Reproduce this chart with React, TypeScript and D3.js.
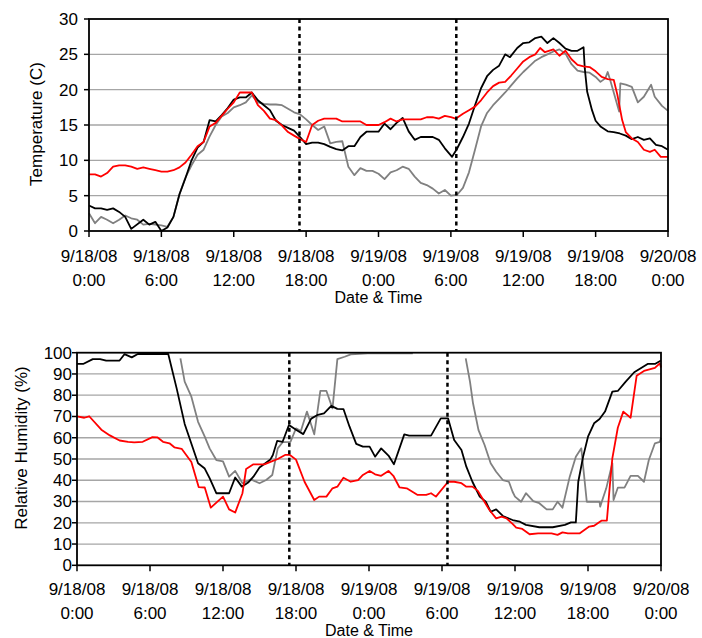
import React from 'react';
import * as d3 from 'd3';

// ---------- data (hours since 9/18/08 0:00, value) ----------
const tickHours = [0, 6, 12, 18, 24, 30, 36, 42, 48];
const dividerHours = [17.45, 30.45];
const tempTicks = [0, 5, 10, 15, 20, 25, 30];
const rhTicks = [0, 10, 20, 30, 40, 50, 60, 70, 80, 90, 100];

const tempBlack: [number, number][] = [
  [0, 3.6], [0.5, 3.2], [1, 3.2], [1.5, 3.0], [2, 3.2], [2.5, 2.7], [3, 2.0], [3.5, 0.3], [4.5, 1.6], [5, 0.9],
  [5.5, 1.3], [6, 0.0], [6.5, 0.5], [7, 2.0], [7.5, 5.2], [8, 7.5], [8.5, 10.0], [9, 11.8], [9.5, 12.6], [10, 15.7],
  [10.5, 15.5], [11, 16.4], [11.5, 17.4], [12, 18.6], [12.5, 18.9], [13, 18.9], [13.5, 19.6], [14, 18.5], [14.5, 17.8],
  [15, 17.1], [15.5, 15.6], [16, 15.0], [16.5, 14.6], [17, 14.2], [17.5, 13.3], [18, 12.3], [18.5, 12.5], [19, 12.5],
  [19.5, 12.3], [20, 11.9], [20.5, 11.6], [21, 11.4], [21.5, 12.0], [22, 12.0], [22.5, 13.3], [23, 14.05], [23.5, 14.05],
  [24, 14.05], [24.5, 15.2], [25, 14.4], [25.5, 15.3], [26, 16.0], [26.5, 14.1], [27, 12.9], [27.5, 13.3], [28, 13.3],
  [28.5, 13.3], [29, 12.9], [29.5, 11.7], [30.1, 10.5], [30.5, 11.6], [31, 13.3], [31.5, 15.2], [32, 17.8], [32.5, 20.2],
  [33, 21.9], [33.5, 22.8], [34, 23.4], [34.5, 25.0], [34.9, 24.6], [35.5, 25.9], [36, 26.6], [36.5, 26.7], [37, 27.3],
  [37.5, 27.5], [38, 26.6], [38.5, 27.3], [39, 26.6], [39.5, 25.8], [40, 25.5], [40.5, 25.5], [41, 26.0], [41.1, 23.0],
  [41.3, 19.7], [41.7, 17.1], [42, 15.6], [42.4, 14.8], [43, 14.1], [43.5, 14.0], [44, 13.8], [44.5, 13.5], [45, 13.0],
  [45.5, 13.3], [46, 12.9], [46.5, 13.1], [47, 12.2], [47.5, 12.0], [48, 11.5],
];

const tempRed: [number, number][] = [
  [0, 8.0], [0.5, 8.0], [1, 7.7], [1.5, 8.2], [2, 9.1], [2.5, 9.3], [3, 9.3], [3.5, 9.1], [4, 8.8], [4.5, 9.0],
  [5, 8.8], [5.5, 8.6], [6, 8.4], [6.5, 8.4], [7, 8.6], [7.5, 9.0], [8, 9.7], [8.5, 10.8], [9, 12.0], [9.5, 12.6],
  [10, 14.8], [10.5, 15.3], [11, 16.3], [11.5, 17.3], [12, 18.2], [12.5, 19.6], [13, 19.6], [13.5, 19.6], [14, 17.8],
  [14.5, 17.0], [15, 15.9], [15.5, 15.7], [16, 14.9], [16.5, 14.0], [17, 13.5], [17.5, 13.0], [18, 12.6], [18.5, 15.0],
  [19, 15.6], [19.5, 15.9], [20, 15.9], [20.5, 15.9], [21, 15.5], [21.5, 15.5], [22, 15.5], [22.5, 15.5], [23, 15.0],
  [23.5, 15.0], [24, 15.0], [24.5, 15.4], [25, 15.9], [25.5, 15.5], [26, 15.8], [26.5, 15.8], [27, 15.8], [27.5, 15.8],
  [28, 16.1], [28.5, 16.1], [29, 15.9], [29.5, 16.3], [30, 16.1], [30.4, 15.9], [31, 16.6], [31.5, 17.1], [32, 17.6],
  [32.5, 18.5], [33, 19.6], [33.5, 20.5], [34, 21.0], [34.5, 21.1], [35, 22.0], [35.5, 23.0], [36, 24.0], [36.5, 24.6],
  [37, 25.0], [37.4, 25.9], [37.8, 25.3], [38.5, 25.7], [39, 24.8], [39.5, 25.5], [40, 24.3], [40.5, 23.5], [41, 23.3],
  [41.5, 23.2], [42, 22.6], [42.5, 21.8], [43, 21.5], [43.5, 21.4], [43.8, 19.3], [44.2, 15.7], [44.5, 14.0], [45, 13.1],
  [45.5, 12.6], [46, 11.5], [46.5, 11.2], [46.9, 11.5], [47.4, 10.5], [48, 10.5],
];

const tempGray: [number, number][] = [
  [0, 2.5], [0.5, 1.1], [1, 2.0], [1.5, 1.6], [2, 1.1], [2.5, 1.6], [3, 2.2], [3.5, 1.8], [4, 1.6], [4.5, 0.9],
  [5, 1.0], [5.5, 0.9], [6, 0.8], [6.5, 0.6], [7, 2.0], [7.5, 5.2], [8, 7.6], [8.5, 9.3], [9, 10.8], [9.5, 11.5],
  [10, 13.4], [10.5, 15.0], [11, 16.2], [11.5, 16.7], [12, 17.5], [12.5, 17.8], [13, 18.2], [13.5, 19.2], [14, 18.2],
  [14.5, 18.0], [15, 17.9], [15.5, 17.9], [16, 17.8], [16.5, 17.3], [17, 16.8], [17.5, 16.5], [18, 15.8], [18.5, 15.0],
  [19, 14.3], [19.5, 14.8], [20, 12.4], [20.5, 12.6], [21, 12.7], [21.5, 9.1], [22, 7.9], [22.5, 8.9], [23, 8.5],
  [23.5, 8.5], [24, 8.1], [24.5, 7.35], [25, 8.3], [25.5, 8.6], [26, 9.1], [26.5, 8.8], [27, 7.7], [27.5, 6.8],
  [28, 6.5], [28.5, 6.0], [29, 5.3], [29.5, 5.8], [30, 5.0], [30.5, 5.1], [31, 6.1], [31.5, 8.3], [32, 11.5],
  [32.5, 14.8], [33, 16.7], [33.5, 17.8], [34, 18.7], [34.5, 19.6], [35, 20.6], [35.5, 21.6], [36, 22.5], [36.5, 23.3],
  [37, 24.1], [37.5, 24.6], [38, 25.0], [38.5, 25.4], [39, 25.7], [39.5, 25.1], [40, 23.6], [40.5, 22.7], [41, 22.5],
  [41.5, 22.4], [42, 21.8], [42.4, 21.1], [42.8, 21.6], [43, 22.5], [43.2, 21.4], [43.95, 16.9], [44.05, 20.9],
  [44.5, 20.7], [45, 20.4], [45.5, 18.2], [46, 19.0], [46.6, 20.7], [46.9, 19.0], [47.5, 17.7], [48, 17.0],
];

const rhBlack: [number, number][] = [
  [0, 94.7], [0.5, 94.7], [1.3, 97.0], [1.9, 97.0], [2.4, 96.3], [3.5, 96.3], [3.9, 99.3], [4.5, 97.8], [5, 99.4],
  [7.5, 99.4], [8.2, 83], [8.85, 66.5], [9.95, 48], [10.5, 45.5], [10.9, 41], [11.45, 33.9], [12.5, 33.9], [13, 41.3],
  [13.55, 37.0], [14.1, 39.1], [14.5, 41.7], [15, 46], [15.9, 49.8], [16.1, 51.9], [16.45, 58.5], [16.9, 58.1],
  [17.42, 66], [18, 63.8], [18.6, 61.7], [19.25, 69], [19.8, 70.8], [20.3, 71.5], [20.9, 75], [21.4, 73.6], [21.9, 73.5],
  [22.4, 65.2], [22.95, 57.1], [23.5, 55.8], [24.05, 55.8], [24.5, 51.1], [25, 55.0], [25.6, 51.6], [26.05, 47.5],
  [26.9, 61.6], [27.3, 61.0], [29.1, 61.0], [29.9, 69.1], [30.5, 69.1], [31, 58.9], [31.6, 54.2], [32, 46.4],
  [32.5, 39.3], [33.1, 32.3], [33.6, 29.9], [34, 25.2], [34.45, 26.3], [35, 23.2], [35.8, 21.3], [36.4, 20.5],
  [36.9, 19.0], [38, 17.9], [39.1, 17.9], [40.1, 19.0], [40.6, 20.2], [41, 20.2], [41.2, 39.3], [41.6, 51.1],
  [42, 60.5], [42.5, 66.8], [42.95, 68.8], [43.4, 72.3], [44, 81.7], [44.45, 82.0], [45.1, 86.4], [45.8, 90.8],
  [46.9, 94.7], [47.5, 94.7], [48, 96.3],
];

const rhRed: [number, number][] = [
  [0, 70.1], [0.6, 69.4], [1, 70.1], [2, 63.8], [2.7, 61.1], [3.5, 58.7], [4.2, 58.1], [4.7, 57.8], [5.4, 58.1],
  [6.2, 60.3], [6.6, 60.2], [7.07, 58.1], [7.6, 57.4], [8, 55.5], [8.6, 54.8], [9.4, 48.6], [10, 36.8], [10.5, 36.6],
  [11, 27.1], [12, 32.3], [12.5, 26.3], [13, 24.8], [13.6, 33.9], [13.9, 45.3], [14.5, 47.5], [15.4, 47.5], [16.1, 49.1],
  [16.5, 50.0], [17.1, 51.9], [17.5, 51.9], [18, 49.7], [18.7, 39.3], [19.5, 30.7], [19.9, 32.3], [20.5, 32.3],
  [21, 36.2], [21.4, 37.0], [21.9, 41.2], [22.5, 39.3], [23.1, 40.1], [23.5, 42.5], [24.05, 44.4], [24.5, 42.8],
  [25, 42.1], [25.6, 44.4], [26, 42.1], [26.5, 36.7], [27.1, 36.2], [28, 33.1], [28.7, 33.1], [29.1, 33.9], [29.5, 32.3],
  [30.5, 39.3], [31, 39.3], [31.6, 38.6], [32, 37.0], [32.5, 37.0], [32.95, 35.0], [33.4, 30.7], [33.9, 26.0],
  [34.45, 22.1], [34.9, 22.9], [35.3, 22.1], [35.8, 19.5], [36.1, 17.7], [36.6, 17.1], [37.2, 14.6], [37.9, 15.0],
  [39, 15.0], [39.5, 14.3], [39.9, 15.5], [40.35, 15.0], [41.3, 15.0], [42.1, 18.2], [42.5, 18.6], [43.1, 21.0],
  [43.55, 21.0], [43.8, 37.8], [44, 50.3], [44.45, 64.7], [44.9, 72.3], [45.5, 69.4], [46, 89.2], [46.6, 91.4],
  [47.5, 92.9], [47.9, 95.0], [48, 93.0],
];

const rhGray: [number, number | null][] = [
  [8.5, 97.3], [8.85, 86.4], [9.4, 79.3], [9.95, 67.5], [10.5, 60.5], [10.9, 55.0], [11.45, 49.5], [12, 48.9],
  [12.5, 41.7], [13, 44.4], [13.6, 38.6], [14.3, 40.4], [15, 38.6], [15.55, 40.1], [16.05, 42.5], [16.5, 55.0],
  [16.9, 57.9], [17.55, 58.1], [18, 64.4], [18.4, 63.2], [18.9, 72.3], [19.5, 61.6], [20, 82.0], [20.5, 82.0],
  [21, 73.8], [21.4, 97.0], [22, 98.1], [22.5, 99.2], [23.9, 99.7], [27.6, 99.7], [27.7, null],
  [31.95, 97.3], [32.3, 86.4], [32.55, 76.2], [33, 63.6], [33.5, 56.6], [34, 48.0], [34.45, 44.0], [35, 40.1],
  [35.5, 39.3], [35.8, 34.6], [36, 32.3], [36.5, 29.9], [36.9, 33.9], [37.5, 30.2], [38, 29.2], [38.6, 26.3],
  [39.1, 26.3], [39.5, 29.9], [39.9, 27.1], [40.5, 41.7], [41, 51.1], [41.45, 55.0], [41.9, 29.9], [42.95, 29.9],
  [43, 27.6], [43.5, 36.2], [44, 48.0], [44.1, 30.7], [44.45, 36.5], [45, 36.5], [45.5, 42.1], [46.1, 42.1],
  [46.6, 39.3], [47, 49.5], [47.5, 57.4], [47.9, 58.1], [48, 60.0],
];

// ---------- helpers ----------
const base = new Date(2008, 8, 18, 0, 0, 0);
const toDate = (h: number) => new Date(base.getTime() + h * 3600 * 1000);
const fmtDate = d3.timeFormat('%-m/%-d/%y');
const fmtTime = d3.timeFormat('%-H:%M');
const FONT = '"Liberation Sans", Arial, sans-serif';

type Series = { data: [number, number | null][]; color: string };

type PanelProps = {
  left: number; right: number; top: number; bottom: number;
  yMax: number; yTicks: number[]; series: Series[];
  yLabel: string; yLabelX: number; yLabelY: number;
  yTickGap: number; dateY: number; timeY: number; titleY: number;
};

function Panel(p: PanelProps) {
  const x = d3.scaleTime().domain([toDate(0), toDate(48)]).range([p.left, p.right]);
  const y = d3.scaleLinear().domain([0, p.yMax]).range([p.bottom, p.top]);
  const line = d3
    .line<[number, number | null]>()
    .defined((d) => d[1] !== null)
    .x((d) => x(toDate(d[0])))
    .y((d) => y(d[1] as number));
  const ticks = tickHours.map(toDate);
  const cx = (p.left + p.right) / 2;
  return (
    <g>
      {p.yTicks.filter((t) => t > 0 && t < p.yMax).map((t) => (
        <line key={'g' + t} x1={p.left} x2={p.right} y1={y(t)} y2={y(t)} stroke="#a6a6a6" strokeWidth={1.3} />
      ))}
      {p.series.map((s, i) => (
        <path key={i} d={line(s.data) || ''} fill="none" stroke={s.color} strokeWidth={1.8} strokeLinejoin="round" />
      ))}
      {dividerHours.map((h) => (
        <line key={'d' + h} x1={x(toDate(h))} x2={x(toDate(h))} y1={p.top} y2={p.bottom} stroke="#000" strokeWidth={2.5} strokeDasharray="4,3.5" />
      ))}
      <rect x={p.left} y={p.top} width={p.right - p.left} height={p.bottom - p.top} fill="none" stroke="#000" strokeWidth={1.8} />
      {p.yTicks.map((t) => (
        <g key={'y' + t}>
          <line x1={p.left - 5} x2={p.left} y1={y(t)} y2={y(t)} stroke="#000" strokeWidth={1.5} />
          <text x={p.left - p.yTickGap} y={y(t)} dy="0.35em" textAnchor="end" fontSize={17} fontFamily={FONT} fill="#000">{t}</text>
        </g>
      ))}
      {ticks.map((d, i) => (
        <g key={'x' + i}>
          <line x1={x(d)} x2={x(d)} y1={p.bottom} y2={p.bottom + 6} stroke="#000" strokeWidth={1.5} />
          <text x={x(d)} y={p.dateY} textAnchor="middle" fontSize={17} fontFamily={FONT} fill="#000">{fmtDate(d)}</text>
          <text x={x(d)} y={p.timeY} textAnchor="middle" fontSize={17} fontFamily={FONT} fill="#000">{fmtTime(d)}</text>
        </g>
      ))}
      <text x={cx} y={p.titleY} textAnchor="middle" fontSize={16} fontFamily={FONT} fill="#000">Date &amp; Time</text>
      <text transform={`translate(${p.yLabelX},${p.yLabelY}) rotate(-90)`} textAnchor="middle" fontSize={17} fontFamily={FONT} fill="#000">{p.yLabel}</text>
    </g>
  );
}

export default function App() {
  return (
    <svg width={702} height={638} style={{ position: 'absolute', left: 0, top: 0, background: '#fff' }}>
      <rect x={0} y={0} width={702} height={638} fill="#fff" />
      <Panel
        left={89} right={668} top={19} bottom={231} yMax={30} yTicks={tempTicks}
        series={[
          { data: tempGray, color: '#808080' },
          { data: tempBlack, color: '#000000' },
          { data: tempRed, color: '#ff0000' },
        ]}
        yLabel="Temperature (C)" yLabelX={42} yLabelY={124} yTickGap={11}
        dateY={262} timeY={286} titleY={303}
      />
      <Panel
        left={77} right={661} top={352.7} bottom={565.3} yMax={100} yTicks={rhTicks}
        series={[
          { data: rhGray, color: '#808080' },
          { data: rhBlack, color: '#000000' },
          { data: rhRed, color: '#ff0000' },
        ]}
        yLabel="Relative Humidity (%)" yLabelX={27} yLabelY={448} yTickGap={5}
        dateY={595} timeY={619} titleY={636}
      />
    </svg>
  );
}
